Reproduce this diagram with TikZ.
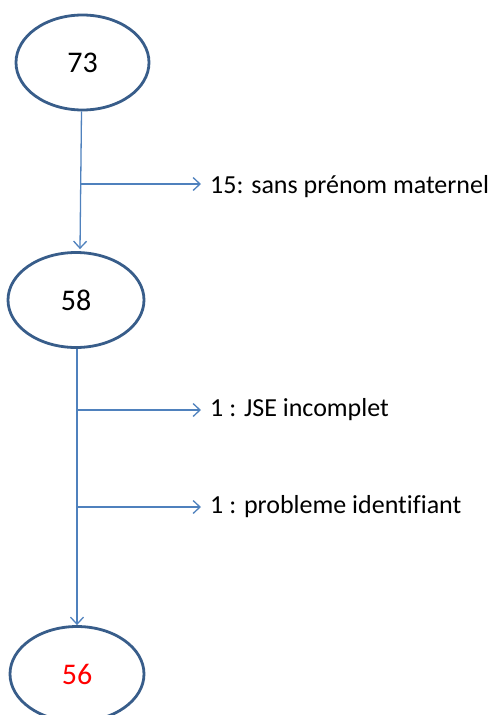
\documentclass[tikz,border=0pt]{standalone}
\usepackage{fontspec}
\setmainfont{Carlito}[Ligatures={NoCommon}]
\usetikzlibrary{shapes.geometric,arrows.meta}
\definecolor{ellline}{HTML}{385D8A}
\definecolor{conn}{HTML}{4F81BD}
\tikzset{
  stateell/.style={ellipse, draw=ellline, line width=2.8pt, minimum width=133pt, minimum height=95pt, inner sep=0pt, font=\fontsize{30}{34}\selectfont},
  flow/.style={draw=conn, line width=1.3pt, -{Straight Barb[length=7pt,width=13pt,line width=1.3pt]}},
  lbl/.style={anchor=west, inner sep=0pt, font=\fontsize{26}{30}\selectfont},
}
\begin{document}
\begin{tikzpicture}[x=1pt,y=-1pt]
\useasboundingbox (0,0) rectangle (495,715);
\node[stateell] (n73) at (82.5,62.5) {73};
\node[stateell, minimum width=136pt] (n58) at (76,300) {58};
\node[stateell, minimum width=134pt, text=red] (n56) at (77,674) {56};
\coordinate (b1) at (81,184);
\coordinate (b2) at (77,410);
\coordinate (b3) at (77,507);
\node[lbl] (l1) at (210,187) {15: sans prénom maternel};
\node[lbl] (l2) at (210,410) {1 : JSE incomplet};
\node[lbl] (l3) at (210,507) {1 : probleme identifiant};
\draw[flow] ([xshift=-1pt]n73.south) -- ([xshift=4pt,yshift=2pt]n58.north);
\draw[flow] ([xshift=1pt]n58.south) -- (n56.north);
\draw[flow] (b1) -- ([xshift=-9pt]l1.west |- b1);
\draw[flow] (b2) -- ([xshift=-9pt]l2.west |- b2);
\draw[flow] (b3) -- ([xshift=-9pt]l3.west |- b3);
\end{tikzpicture}
\end{document}
